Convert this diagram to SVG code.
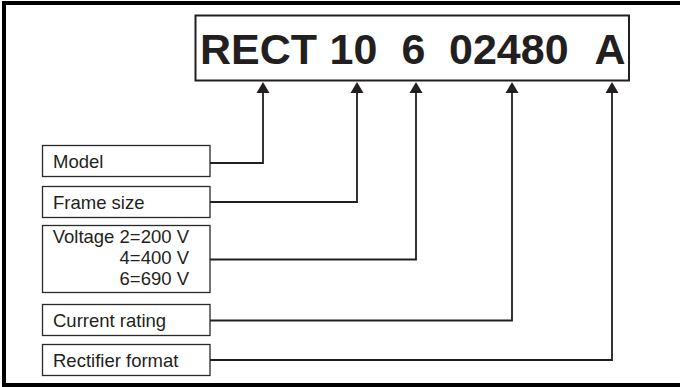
<svg xmlns="http://www.w3.org/2000/svg" width="680" height="387" viewBox="0 0 680 387">
<style>
.frame{fill:none;stroke:#000;stroke-width:4}
.box{fill:#fff;stroke:#2a2a2a;stroke-width:1.3}
.top{fill:#fff;stroke:#231f20;stroke-width:2}
.lbl{font-family:"Liberation Sans",Arial,sans-serif;font-size:18.5px;fill:#231f20}
.big{font-family:"Liberation Sans",Arial,sans-serif;font-size:43px;font-weight:bold;fill:#231f20}
.conn{fill:none;stroke:#231f20;stroke-width:1.8}
</style>
<defs>
<marker id="ah" markerUnits="userSpaceOnUse" markerWidth="12" markerHeight="14" viewBox="0 0 12 14" refX="3" refY="7" orient="auto">
<path d="M0,0.5 L11,7 L0,13.5 Z" fill="#231f20"/>
</marker>
</defs>
<rect x="0" y="0" width="680" height="387" fill="#fff"/>
<path class="frame" d="M684,3 H4 V385 H684"/>
<g id="code">
<rect class="top" x="195.5" y="15.5" width="433.5" height="65"/>
<text class="big" y="63.5"><tspan x="200">RECT</tspan> <tspan x="329.5">10</tspan> <tspan x="401.5">6</tspan> <tspan x="449">02480</tspan> <tspan x="594.5">A</tspan></text>
</g>
<g id="model">
<rect class="box" x="42.5" y="145.5" width="167.5" height="31"/>
<text class="lbl" x="53" y="167.5">Model</text>
</g>
<g id="frame-size">
<rect class="box" x="42.5" y="186.5" width="167.5" height="31"/>
<text class="lbl" x="53" y="208.5">Frame size</text>
</g>
<g id="voltage">
<rect class="box" x="42.5" y="225.5" width="167.5" height="67"/>
<text class="lbl" text-anchor="end" x="189" y="243">Voltage 2=200 V</text>
<text class="lbl" text-anchor="end" x="189" y="263.5">4=400 V</text>
<text class="lbl" text-anchor="end" x="189" y="284.5">6=690 V</text>
</g>
<g id="current">
<rect class="box" x="42.5" y="304.5" width="167.5" height="31"/>
<text class="lbl" x="53" y="326.5">Current rating</text>
</g>
<g id="rectifier">
<rect class="box" x="42.5" y="344.5" width="167.5" height="31"/>
<text class="lbl" x="53" y="366.5">Rectifier format</text>
</g>
<g id="connectors">
<path class="conn" d="M210,163 H263 V90" marker-end="url(#ah)"/>
<path class="conn" d="M210,202 H357 V90" marker-end="url(#ah)"/>
<path class="conn" d="M210,259.5 H416 V90" marker-end="url(#ah)"/>
<path class="conn" d="M210,320.5 H512 V90" marker-end="url(#ah)"/>
<path class="conn" d="M210,360 H612 V90" marker-end="url(#ah)"/>
</g>
</svg>
